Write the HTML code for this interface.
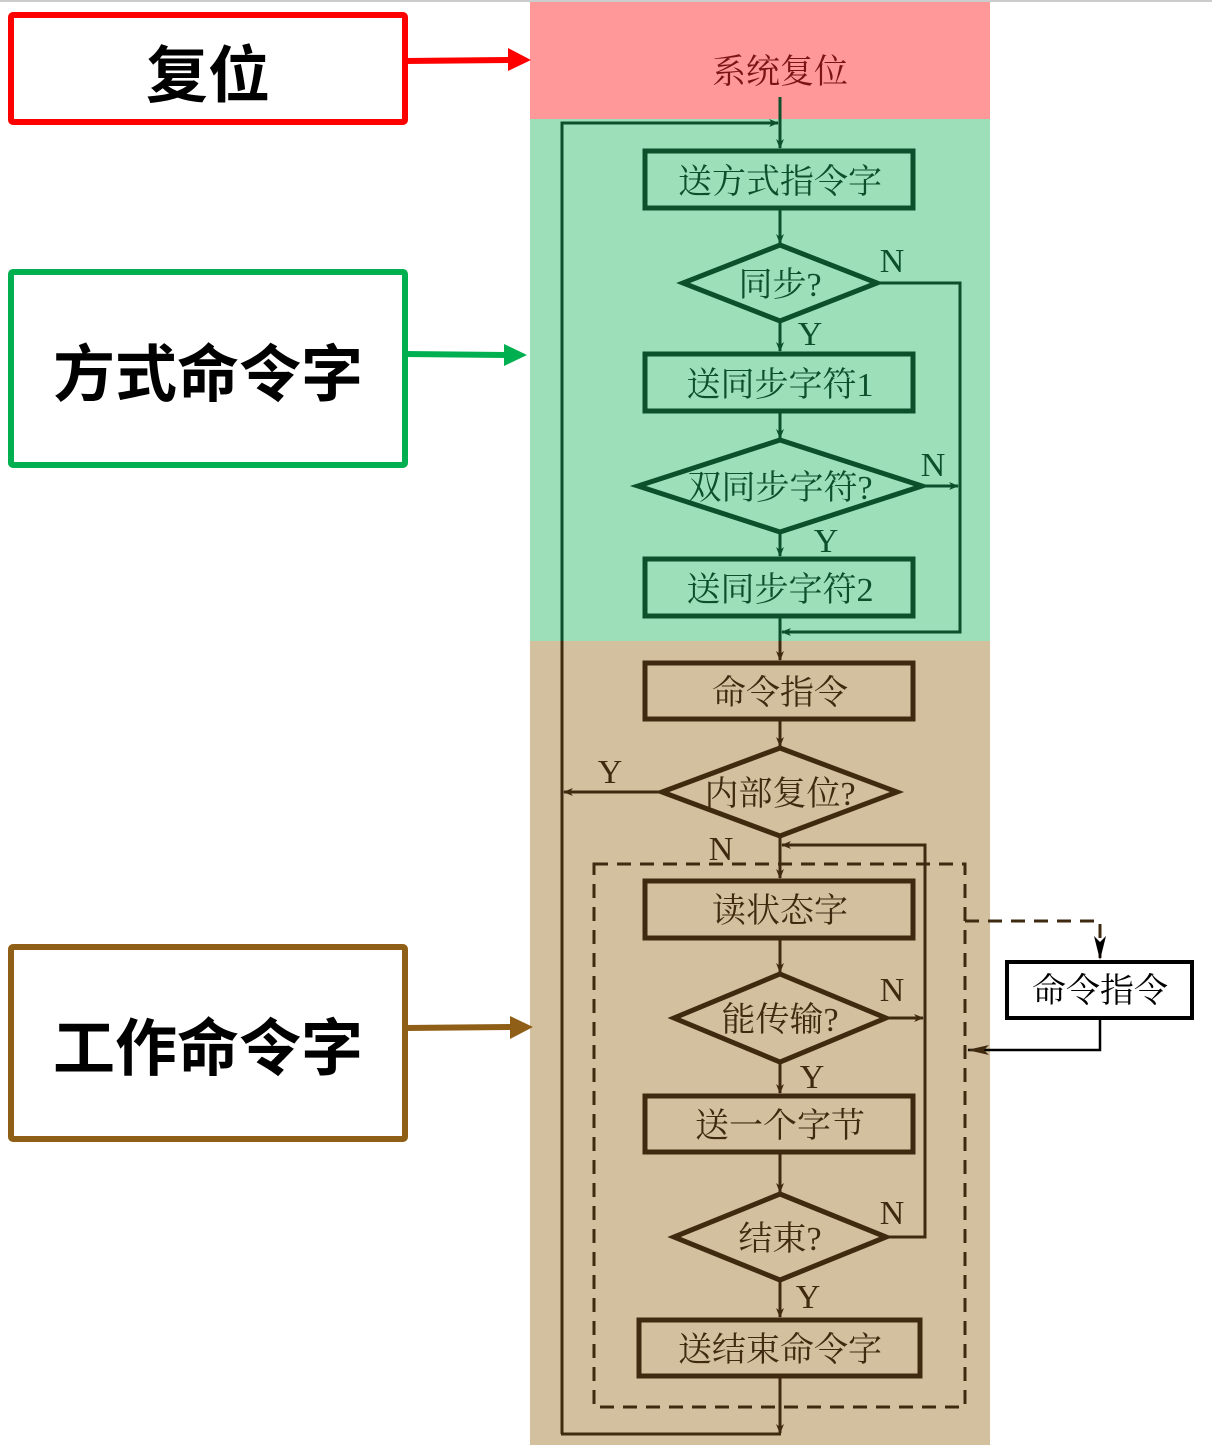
<!DOCTYPE html>
<html><head><meta charset="utf-8"><style>
html,body{margin:0;padding:0;background:#fff;width:1212px;height:1445px;overflow:hidden}
svg{display:block}
.lab{font-family:"Liberation Sans","Noto Sans CJK SC",sans-serif;font-size:62px;font-weight:bold;fill:#000}
.ft{font-family:"Liberation Serif","Noto Serif CJK SC",serif;font-size:34px}
.g{fill:#0b4f2b}.b{fill:#3f2a10}
</style></head><body>
<svg width="1212" height="1445" viewBox="0 0 1212 1445" xmlns="http://www.w3.org/2000/svg">
<defs>
<marker id="ag" markerWidth="10" markerHeight="10" refX="9" refY="5" orient="auto" markerUnits="userSpaceOnUse"><path d="M0,1 L10,5 L0,9 L3,5z" fill="#0b4f2b"/></marker>
<marker id="ab" markerWidth="10" markerHeight="10" refX="9" refY="5" orient="auto" markerUnits="userSpaceOnUse"><path d="M0,1 L10,5 L0,9 L3,5z" fill="#3f2a10"/></marker>
<marker id="ak" markerWidth="22" markerHeight="12" refX="21" refY="6" orient="auto" markerUnits="userSpaceOnUse"><path d="M0,1 L22,6 L0,11 L5,6z" fill="#000"/></marker>
<marker id="abig" markerWidth="22" markerHeight="12" refX="21" refY="6" orient="auto" markerUnits="userSpaceOnUse"><path d="M0,1 L22,6 L0,11 L5,6z" fill="#3f2a10"/></marker>
</defs>
<line x1="0" y1="1" x2="1212" y2="1" stroke="#ccc" stroke-width="2"/>
<!-- bands -->
<rect x="530" y="2" width="460" height="117" fill="#ff9999"/>
<rect x="530" y="119" width="460" height="522" fill="#9ddfb9"/>
<rect x="530" y="641" width="460" height="804" fill="#d3c09f"/>

<!-- left labels -->
<rect x="11" y="15" width="394" height="107" fill="#fff" stroke="#ff0000" stroke-width="6" rx="2"/>
<text class="lab" x="208" y="97" text-anchor="middle">复位</text>
<line x1="405" y1="61" x2="510" y2="60" stroke="#ff0000" stroke-width="6"/>
<polygon points="508,48 531,60 508,71" fill="#ff0000"/>

<rect x="11" y="272" width="394" height="193" fill="#fff" stroke="#00b050" stroke-width="6" rx="2"/>
<text class="lab" x="208" y="396" text-anchor="middle">方式命令字</text>
<line x1="405" y1="354" x2="506" y2="355" stroke="#00b050" stroke-width="6"/>
<polygon points="504,344 527,355 504,366" fill="#00b050"/>

<rect x="11" y="947" width="394" height="192" fill="#fff" stroke="#8f5f17" stroke-width="6" rx="2"/>
<text class="lab" x="208" y="1070" text-anchor="middle">工作命令字</text>
<line x1="405" y1="1028" x2="512" y2="1027" stroke="#8f5f17" stroke-width="6"/>
<polygon points="510,1016 533,1027 510,1039" fill="#8f5f17"/>

<!-- reset -->
<text x="780" y="83" text-anchor="middle" class="ft" fill="#7a1515">系统复位</text>

<!-- green section -->
<g stroke="#0b4f2b" fill="none">
<line x1="780" y1="97" x2="780" y2="148" stroke-width="3" marker-end="url(#ag)"/>
<polyline points="562,641 562,123 778,123" stroke-width="3" marker-end="url(#ag)"/>
<rect x="645" y="151" width="268" height="57" stroke-width="5"/>
<line x1="780" y1="209" x2="780" y2="243" stroke-width="3" marker-end="url(#ag)"/>
<polygon points="780,245 877,283 780,321 683,283" stroke-width="5"/>
<line x1="780" y1="322" x2="780" y2="351" stroke-width="3" marker-end="url(#ag)"/>
<polyline points="877,283 960,283 960,632 782,632" stroke-width="3" marker-end="url(#ag)"/>
<rect x="645" y="354" width="268" height="57" stroke-width="5"/>
<line x1="780" y1="412" x2="780" y2="438" stroke-width="3" marker-end="url(#ag)"/>
<polygon points="780,440 922,486 780,532 638,486" stroke-width="5"/>
<line x1="922" y1="486" x2="958" y2="486" stroke-width="3" marker-end="url(#ag)"/>
<line x1="780" y1="533" x2="780" y2="556" stroke-width="3" marker-end="url(#ag)"/>
<rect x="645" y="559" width="268" height="57" stroke-width="5"/>
<line x1="780" y1="617" x2="780" y2="641" stroke-width="3"/>
</g>
<text x="780" y="193" text-anchor="middle" class="ft g">送方式指令字</text>
<text x="780" y="296" text-anchor="middle" class="ft g">同步?</text>
<text x="892" y="272" text-anchor="middle" class="ft g">N</text>
<text x="810" y="345" text-anchor="middle" class="ft g">Y</text>
<text x="780" y="396" text-anchor="middle" class="ft g">送同步字符1</text>
<text x="780" y="499" text-anchor="middle" class="ft g">双同步字符?</text>
<text x="933" y="476" text-anchor="middle" class="ft g">N</text>
<text x="826" y="552" text-anchor="middle" class="ft g">Y</text>
<text x="780" y="601" text-anchor="middle" class="ft g">送同步字符2</text>

<!-- tan section -->
<g stroke="#3f2a10" fill="none">
<line x1="562" y1="641" x2="562" y2="1434" stroke-width="3"/>
<line x1="780" y1="641" x2="780" y2="660" stroke-width="3" marker-end="url(#ab)"/>
<rect x="645" y="663" width="268" height="56" stroke-width="5"/>
<line x1="780" y1="720" x2="780" y2="746" stroke-width="3" marker-end="url(#ab)"/>
<polygon points="780,748 897,792 780,836 662,792" stroke-width="5"/>
<line x1="662" y1="792" x2="564" y2="792" stroke-width="3" marker-end="url(#ab)"/>
<line x1="780" y1="837" x2="780" y2="878" stroke-width="3" marker-end="url(#ab)"/>
<polyline points="886,1237 925,1237 925,845 782,845" stroke-width="3" marker-end="url(#ab)"/>
<rect x="594" y="864" width="371" height="543" stroke-width="3" stroke-dasharray="14,9"/>
<polyline points="965,921 1100,921 1100,958" stroke-width="3" stroke-dasharray="14,9"/>
<rect x="645" y="881" width="268" height="57" stroke-width="5"/>
<line x1="780" y1="939" x2="780" y2="972" stroke-width="3" marker-end="url(#ab)"/>
<polygon points="780,974 886,1018 780,1062 674,1018" stroke-width="5"/>
<line x1="886" y1="1018" x2="923" y2="1018" stroke-width="3" marker-end="url(#ab)"/>
<line x1="780" y1="1063" x2="780" y2="1093" stroke-width="3" marker-end="url(#ab)"/>
<rect x="645" y="1096" width="268" height="56" stroke-width="5"/>
<line x1="780" y1="1153" x2="780" y2="1192" stroke-width="3" marker-end="url(#ab)"/>
<polygon points="780,1194 886,1237 780,1280 674,1237" stroke-width="5"/>
<line x1="780" y1="1281" x2="780" y2="1317" stroke-width="3" marker-end="url(#ab)"/>
<rect x="639" y="1320" width="281" height="56" stroke-width="5"/>
<line x1="780" y1="1377" x2="780" y2="1433" stroke-width="3" marker-end="url(#ab)"/>
<line x1="561" y1="1434" x2="781" y2="1434" stroke-width="3"/>
</g>
<polygon points="1094,936 1100,960 1106,936 1100,942" fill="#000"/>
<rect x="1007" y="962" width="185" height="56" fill="#fff" stroke="#000" stroke-width="4"/>
<polyline points="1100,1018 1100,1050 968,1050" fill="none" stroke="#000" stroke-width="2.5" marker-end="url(#abig)"/>
<text x="1100" y="1002" text-anchor="middle" class="ft" fill="#000">命令指令</text>

<text x="780" y="704" text-anchor="middle" class="ft b">命令指令</text>
<text x="780" y="805" text-anchor="middle" class="ft b">内部复位?</text>
<text x="610" y="783" text-anchor="middle" class="ft b">Y</text>
<text x="721" y="860" text-anchor="middle" class="ft b">N</text>
<text x="780" y="922" text-anchor="middle" class="ft b">读状态字</text>
<text x="780" y="1031" text-anchor="middle" class="ft b">能传输?</text>
<text x="892" y="1001" text-anchor="middle" class="ft b">N</text>
<text x="812" y="1088" text-anchor="middle" class="ft b">Y</text>
<text x="780" y="1137" text-anchor="middle" class="ft b">送一个字节</text>
<text x="780" y="1250" text-anchor="middle" class="ft b">结束?</text>
<text x="892" y="1224" text-anchor="middle" class="ft b">N</text>
<text x="808" y="1308" text-anchor="middle" class="ft b">Y</text>
<text x="780" y="1361" text-anchor="middle" class="ft b">送结束命令字</text>
</svg>
</body></html>
